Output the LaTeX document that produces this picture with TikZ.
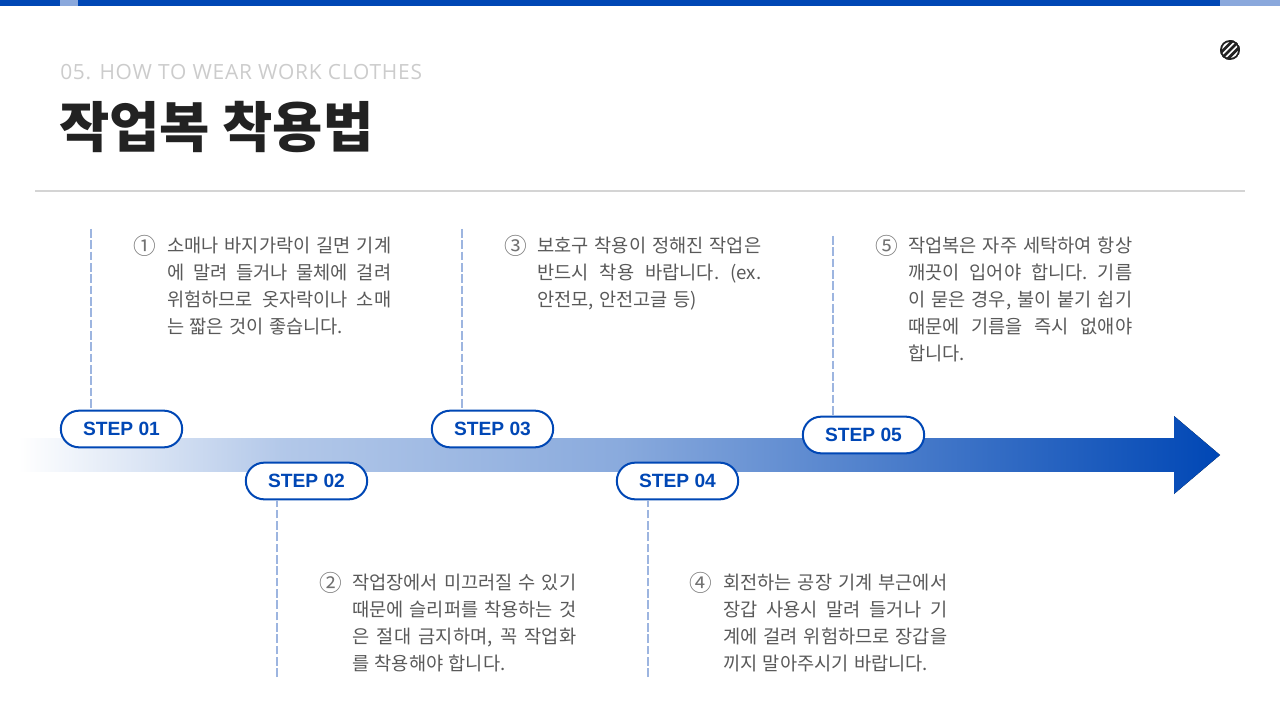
\documentclass[tikz,border=0pt]{standalone}
\usepackage{fontspec}
\setmainfont{Noto Sans CJK KR}
\newfontfamily\latinf[LetterSpace=3.6]{Open Sans}
\newfontfamily\stepf{Liberation Sans}
\usetikzlibrary{calc}
\definecolor{mainblue}{HTML}{0047B5}
\definecolor{lightblue}{HTML}{8AA8DC}
\definecolor{dashblue}{HTML}{9DB5E0}
\definecolor{bodygray}{HTML}{595959}
\definecolor{inkdark}{HTML}{222222}
\pgfdeclarehorizontalshading{arrowshade}{100bp}{
 color(0bp)=(white);
 color(25bp)=(white);
 color(36bp)=(mainblue!30!white);
 color(50bp)=(mainblue!46!white);
 color(75bp)=(mainblue);
 color(100bp)=(mainblue)}
\newlength{\lw}\setlength{\lw}{168pt}
\newcommand{\jl}[1]{\makebox[\lw][s]{#1}}
\newcommand{\bodyfnt}{\fontsize{14pt}{20.25pt}\selectfont\frenchspacing\spaceskip=4pt plus 6pt minus 1.5pt\relax}
\tikzset{
 x=0.75pt,y=-0.75pt,
 stepbox/.style={draw=mainblue,line width=1.5pt,fill=white,rounded corners=13.7pt,minimum width=91pt,minimum height=27.5pt,inner sep=0pt,text=mainblue,font=\stepf\fontsize{14.4pt}{16pt}\selectfont\bfseries},
 guide/.style={draw=dashblue,line width=1pt,dash pattern=on 6.5pt off 2pt},
 para/.style={anchor=north west,inner sep=0pt,align=left,text=bodygray,font=\bodyfnt},
 numeral/.style={inner sep=0pt,text=bodygray!85,font=\fontsize{17pt}{18pt}\selectfont},
}
\begin{document}
\begin{tikzpicture}
\useasboundingbox (0,0) rectangle (1280,720);
\fill[white] (0,0) rectangle (1280,720);
\fill[mainblue] (0,0) rectangle (1280,6);
\fill[lightblue] (60,0) rectangle (78,6);
\fill[lightblue] (1220,0) rectangle (1280,6);
\begin{scope}
\clip (1230,50) circle (10);
\fill[inkdark] (1230,50) circle (10);
\fill[white] (1230,50) circle (8);
\foreach \d in {-3.3,0,3.3}{\draw[inkdark,line width=2pt] ($(1230,50)+(\d,\d)+(-10,10)$) -- ($(1230,50)+(\d,\d)+(10,-10)$);}
\end{scope}
\node[anchor=base west,inner sep=0pt,text=black!20] (sub) at (60,79.5) {\latinf\fontsize{15.7pt}{18pt}\selectfont 05. HOW TO WEAR WORK CLOTHES};
\node[anchor=base west,inner sep=0pt,text=inkdark] (title) at (59,147.5) {\fontsize{41pt}{50pt}\selectfont\bfseries 작업복 착용법};
\draw[black!17,line width=1pt] (35,191) -- (1245,191);
\fill[shading=arrowshade] (18,438) -- (1174,438) -- (1174,416) -- (1220,455) -- (1174,494) -- (1174,472) -- (18,472) -- cycle;
\fill[white] (0,472) rectangle (1173.6,475);
\node[stepbox] (s1) at (121.5,429) {STEP 01};
\node[stepbox] (s2) at (306.5,481) {STEP 02};
\node[stepbox] (s3) at (492.5,429) {STEP 03};
\node[stepbox] (s4) at (677.5,481) {STEP 04};
\node[stepbox] (s5) at (863.5,435) {STEP 05};
\coordinate (g1) at (91,229);
\coordinate (g2) at (277,677);
\coordinate (g3) at (462,229);
\coordinate (g4) at (648,677);
\coordinate (g5) at (833,236);
\draw[guide] (g1) -- (g1 |- s1.north);
\draw[guide] (g2) -- (g2 |- s2.south);
\draw[guide] (g3) -- (g3 |- s3.north);
\draw[guide] (g4) -- (g4 |- s4.south);
\draw[guide] (g5) -- (g5 |- s5.north);
\node[numeral] (n1) at (144.5,245.5) {①};
\node[para] (p1) at (167,236.8) {\jl{소매나 바지가락이 길면 기계}\\\jl{에 말려 들거나 물체에 걸려}\\\jl{위험하므로 옷자락이나 소매}\\는 짧은 것이 좋습니다.};
\node[numeral] (n2) at (330.5,582.5) {②};
\node[para] (p2) at (352,573.8) {\jl{작업장에서 미끄러질 수 있기}\\\jl{때문에 슬리퍼를 착용하는 것}\\\jl{은 절대 금지하며, 꼭 작업화}\\를 착용해야 합니다.};
\node[numeral] (n3) at (515.5,245.5) {③};
\node[para] (p3) at (537,236.8) {\jl{보호구 착용이 정해진 작업은}\\\jl{반드시 착용 바랍니다. (ex.}\\안전모, 안전고글 등)};
\node[numeral] (n4) at (700.5,582.5) {④};
\node[para] (p4) at (723,573.8) {\jl{회전하는 공장 기계 부근에서}\\\jl{장갑 사용시 말려 들거나 기}\\\jl{계에 걸려 위험하므로 장갑을}\\끼지 말아주시기 바랍니다.};
\node[numeral] (n5) at (886.5,245.5) {⑤};
\node[para] (p5) at (908,236.8) {\jl{작업복은 자주 세탁하여 항상}\\\jl{깨끗이 입어야 합니다. 기름}\\\jl{이 묻은 경우, 불이 붙기 쉽기}\\\jl{때문에 기름을 즉시 없애야}\\합니다.};
\end{tikzpicture}
\end{document}
